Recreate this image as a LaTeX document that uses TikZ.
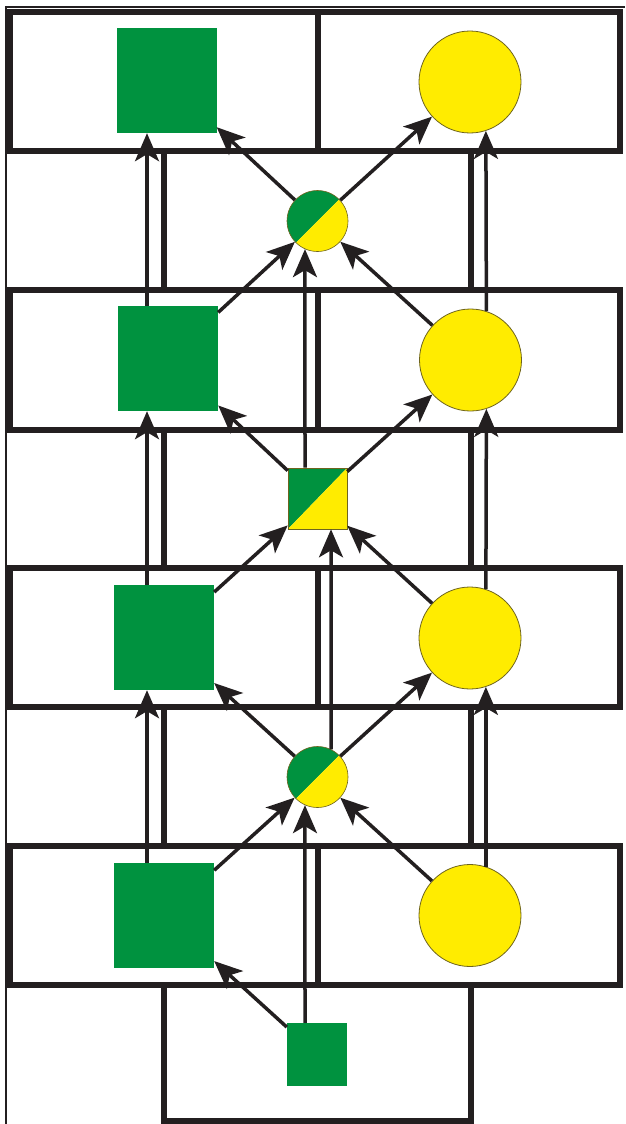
\documentclass[tikz,border=0pt]{standalone}
\usepackage{tikz}
\usetikzlibrary{arrows.meta}
\definecolor{leafgreen}{RGB}{0,146,63}
\definecolor{sunyellow}{RGB}{255,236,0}
\definecolor{ink}{RGB}{35,31,32}
\definecolor{rim}{RGB}{110,100,30}

\begin{document}
\begin{tikzpicture}[x=1pt, y=-1pt, >={Stealth[length=28pt, width=24pt, inset=7pt]},
    cell/.style={draw=ink, line width=6.8pt},
    arr/.style={->, draw=ink, fill=ink, line width=3.5pt},
    gbox/.style={fill=leafgreen, inner sep=0pt, minimum width=100pt, minimum height=105pt},
    ydisc/.style={circle, draw=rim, line width=0.8pt, fill=sunyellow, inner sep=0pt, minimum size=102pt},
    duo/.style={draw=rim, line width=0.6pt, inner sep=0pt, minimum width=59pt, minimum height=61pt,
      path picture={
        \fill[leafgreen] (path picture bounding box.south west) -- (path picture bounding box.north west)
          -- (path picture bounding box.north east) -- cycle;
        \fill[sunyellow] (path picture bounding box.south west) -- (path picture bounding box.south east)
          -- (path picture bounding box.north east) -- cycle;}}]
  \useasboundingbox (0,0) rectangle (625,1124);
  % ---- frame and cells ----
  \draw[ink, line width=1.2pt] (6,1124) -- (6,7) -- (625,7);
  \foreach \t/\b in {12/151, 290/430, 568/707, 846/985} {
    \draw[cell] (10,\t) rectangle (620,\b);
    \draw[cell] (318,\t) -- (318,\b);
  }
  \foreach \t/\b in {151/290, 430/568, 707/846, 985/1121}
    \draw[cell] (164,\t) rectangle (471,\b);
  % ---- row 1 ----
  \node[gbox] (g1) at (166.5,80.5) {};
  \node[ydisc] (y1) at (470,82) {};
  \node[duo, circle, minimum size=61pt] (m1) at (317.5,221) {};
  % ---- row 2 ----
  \node[gbox] (g2) at (168,358.5) {};
  \node[ydisc] (y2) at (470.5,360) {};
  \node[duo] (m2) at (317.5,498.5) {};
  % ---- row 3 ----
  \node[gbox] (g3) at (164,637.5) {};
  \node[ydisc] (y3) at (470,638) {};
  \node[duo, circle, minimum size=61pt] (m3) at (317.5,777) {};
  % ---- row 4 and base ----
  \node[gbox] (g4) at (164,915.5) {};
  \node[ydisc] (y4) at (470,915.5) {};
  \node[gbox, minimum width=60pt, minimum height=63pt] (g0) at (317,1054.5) {};
  % ---- arrows ----
  \coordinate (lx) at (147,0);
  \coordinate (cl) at (305,0);
  \coordinate (cr) at (331,0);
  \draw[arr] (m1) -- (g1);
  \draw[arr] (m1) -- (y1);
  \draw[arr] (g2) -- (m1);
  \draw[arr] (y2) -- (m1);
  \draw[arr] (g2.north -| lx) -- (g1.south -| lx);
  \draw[arr] (y2.72) -- (y1.-72);
  \draw[arr] (m2.north -| cl) -- (m1.-114);
  \draw[arr] (m2) -- (g2);
  \draw[arr] (m2) -- (y2);
  \draw[arr] (g3) -- (m2);
  \draw[arr] (y3) -- (m2);
  \draw[arr] (g3.north -| lx) -- (g2.south -| lx);
  \draw[arr] (y3.72) -- (y2.-72);
  \draw[arr] (m3.64) -- (m2.south -| cr);
  \draw[arr] (m3) -- (g3);
  \draw[arr] (m3) -- (y3);
  \draw[arr] (g4) -- (m3);
  \draw[arr] (y4) -- (m3);
  \draw[arr] (g4.north -| lx) -- (g3.south -| lx);
  \draw[arr] (y4.72) -- (y3.-72);
  \draw[arr] (g0.north -| cl) -- (m3.-114);
  \draw[arr] (g0) -- (g4);
\end{tikzpicture}
\end{document}
